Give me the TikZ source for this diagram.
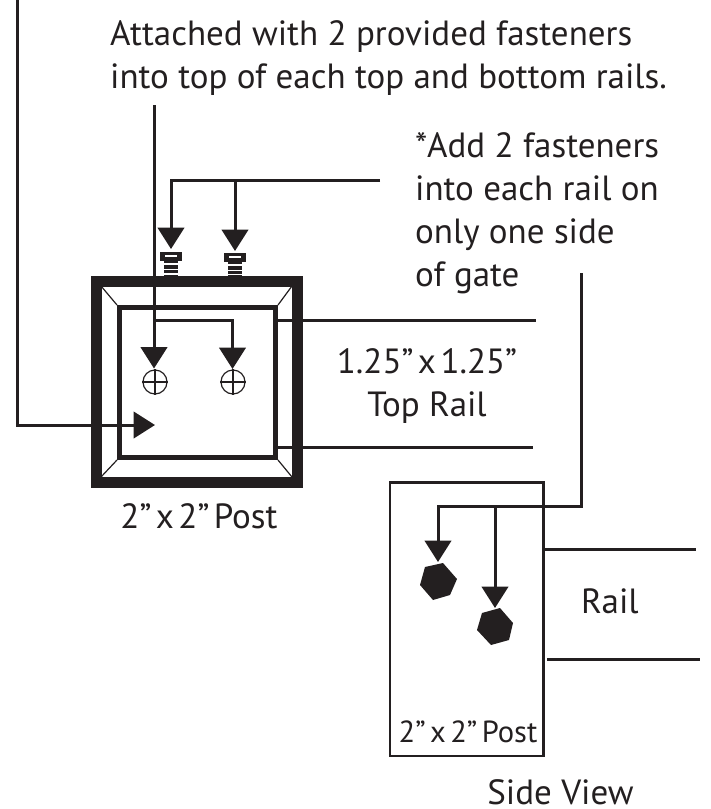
\documentclass[tikz,border=0pt]{standalone}
\usepackage{fontspec}
\setmainfont{PT Sans}
\usetikzlibrary{arrows.meta}
\definecolor{ink}{HTML}{231F20}
\newcommand{\narrowgap}{\hspace{4.5pt}}
\tikzset{
  wire/.style={draw=ink,line width=3pt},
  lead/.style={wire,-{Triangle[length=21.5pt,width=26.5pt,color=ink]}},
  thin edge/.style={draw=ink,line width=1.2pt},
  label/.style={text=ink,inner sep=0pt,anchor=base west,align=left,font=\fontsize{35}{43}\selectfont},
  small/.style={text=ink,inner sep=0pt,anchor=base,font=\fontsize{30.5}{31}\selectfont},
  hexa/.style={fill=ink,draw=none},
  hole/.style={circle,draw=ink,line width=1.2pt,minimum size=24pt,inner sep=0pt},
}
\begin{document}
\begin{tikzpicture}[x=1pt,y=-1pt]
\useasboundingbox (0,0) rectangle (711,809);
% post
\draw[draw=ink,line width=11pt] (96,281) rectangle (297,482);
\draw[draw=ink,line width=5pt] (119.5,307.5) rectangle (275.5,457.5);
\draw[thin edge] (101,286) -- (117,305) (292,286) -- (278,305) (101,477) -- (117,460) (292,477) -- (278,460);
% screws
\foreach \x/\d in {171/0,235/1}{
  \fill[ink] ({\x-11},{252+\d}) rectangle ({\x+11},{261+\d});
  \fill[white] ({\x-6},{254.5+\d}) rectangle ({\x+6},{257+\d});
  \fill[ink] ({\x-7},{261+\d}) rectangle ({\x+7},{263+\d});
  \fill[ink] ({\x-7},{265+\d}) rectangle ({\x+7},{268.5+\d});
  \fill[ink] ({\x-7},{270+\d}) rectangle ({\x+7},{273+\d});
  \fill[ink] ({\x-7},{274.5}) rectangle ({\x+7},{276});
}
% holes
\node[hole] (h1) at (155,382) {};
\node[hole] (h2) at (233,382) {};
\draw[thin edge] (h1.north) -- (h1.south) (h1.west) -- (h1.east) (h2.north) -- (h2.south) (h2.west) -- (h2.east);
% anchors
\coordinate (a0) at (17,0);
\coordinate (a1) at (17,425);
\coordinate (a2) at (155,425);
\coordinate (b0) at (154,105);
\coordinate (b1) at (154,320);
\coordinate (b2) at (154,368.5);
\coordinate (b3) at (232.5,320);
\coordinate (b4) at (232.5,369);
\coordinate (c0) at (380,180);
\coordinate (c1) at (171,180);
\coordinate (c2) at (171,249);
\coordinate (c3) at (235,180);
\coordinate (c4) at (235,251);
\coordinate (d0) at (581,273);
\coordinate (d1) at (581,506.5);
\coordinate (d2) at (438,506.5);
\coordinate (d3) at (438,562);
\coordinate (d4) at (495,506.5);
\coordinate (d5) at (495,608);
\draw[lead] (a0) -- (a1) -- (a2);
\draw[lead] (b0) -- (b2);
\draw[lead] (b1) -- (b3) -- (b4);
\draw[lead] (c0) -- (c1) -- (c2);
\draw[lead] (c3) -- (c4);
\draw[lead] (d0) -- (d1) -- (d2) -- (d3);
\draw[lead] (d4) -- (d5);
% rails
\coordinate (r1) at (278,320); \coordinate (r2) at (536,320);
\coordinate (r3) at (278,447); \coordinate (r4) at (533,447);
\draw[wire] (r1) -- (r2) (r3) -- (r4);
% side view
\draw[draw=ink,line width=2.2pt] (390,482.5) rectangle (543.5,756);
\coordinate (s1) at (543,549); \coordinate (s2) at (696,549);
\coordinate (s3) at (547,659); \coordinate (s4) at (700,659);
\draw[wire] (s1) -- (s2) (s3) -- (s4);
\fill[hexa] (443,563) -- (457,579) -- (450,595) -- (433,600) -- (420,585) -- (425,567) -- cycle;
\fill[hexa] (500,608) -- (513,623) -- (509,640) -- (491,645) -- (477,630) -- (482,613) -- cycle;
% text
\node[label] (t1) at (110,88) {Attached with 2 provided fasteners\\into top of each top and bottom rails.};
\node[label] (t2) at (415,286) {*Add 2 fasteners\\into each rail on\\only one side\\of gate};
\node[label,align=center,anchor=base] (t3) at (427,416) {1.25"\narrowgap x\narrowgap 1.25"\\Top Rail};
\node[label,anchor=base] (t4) at (199,528) {2"\narrowgap x\narrowgap 2"\narrowgap Post};
\node[label] (t5) at (581,613) {Rail};
\node[small] (t6) at (468,742) {2"\narrowgap x\narrowgap 2"\narrowgap Post};
\node[label,anchor=base] (t7) at (560.5,804.5) {Side View};
\end{tikzpicture}
\end{document}
